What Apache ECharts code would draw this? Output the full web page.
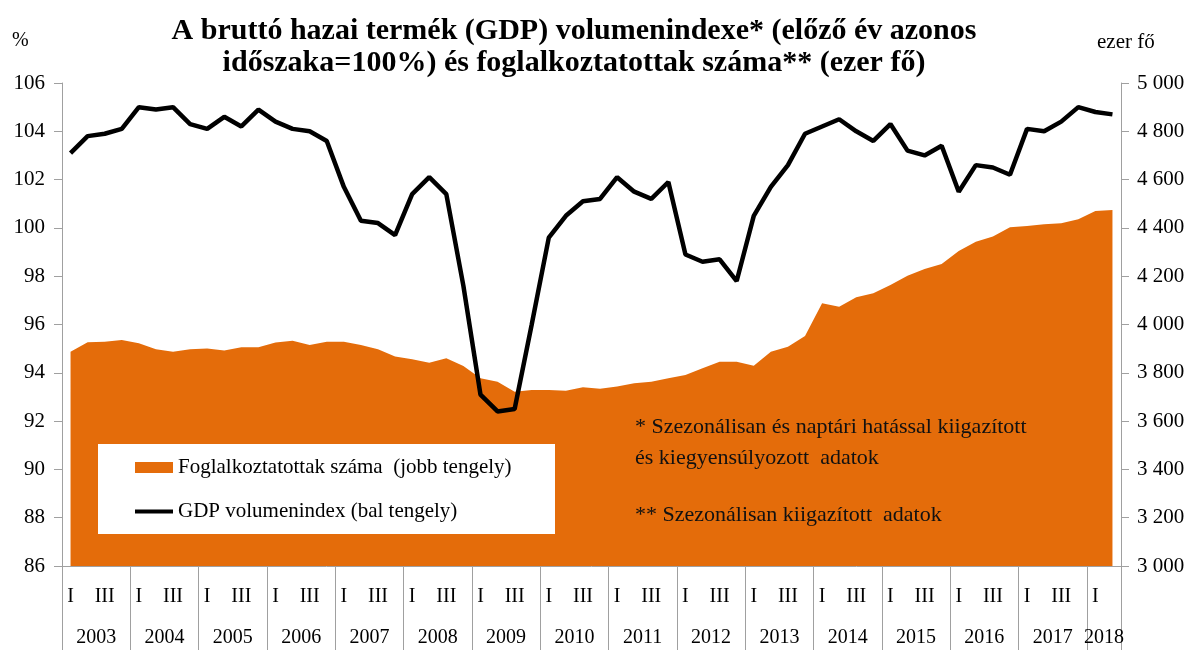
<!DOCTYPE html>
<html>
<head>
<meta charset="utf-8">
<script src="https://cdn.jsdelivr.net/npm/echarts@6/dist/echarts.min.js"></script>
<style>
  html, body { margin: 0; padding: 0; background: #fff; }
  #chart { width: 1193px; height: 650px; }
</style>
</head>
<body>
<div id="chart"></div>
<script>
// quarters 2003 I .. 2018 II
var years = [2003, 2004, 2005, 2006, 2007, 2008, 2009, 2010, 2011, 2012, 2013, 2014, 2015, 2016, 2017, 2018];
var quarterNames = ['I', 'II', 'III', 'IV'];

// GDP volumenindex, előző év azonos időszaka = 100 (bal tengely)
var gdpIndex = [
  103.1, 103.8, 103.9, 104.1,   // 2003
  105.0, 104.9, 105.0, 104.3,   // 2004
  104.1, 104.6, 104.2, 104.9,   // 2005
  104.4, 104.1, 104.0, 103.6,   // 2006
  101.7, 100.3, 100.2, 99.7,    // 2007
  101.4, 102.1, 101.4, 97.6,    // 2008
  93.1, 92.4, 92.5, 96.0,       // 2009
  99.6, 100.5, 101.1, 101.2,    // 2010
  102.1, 101.5, 101.2, 101.9,   // 2011
  98.9, 98.6, 98.7, 97.8,       // 2012
  100.5, 101.7, 102.6, 103.9,   // 2013
  104.2, 104.5, 104.0, 103.6,   // 2014
  104.3, 103.2, 103.0, 103.4,   // 2015
  101.5, 102.6, 102.5, 102.2,   // 2016
  104.1, 104.0, 104.4, 105.0,   // 2017
  104.8, 104.7                  // 2018
];

// foglalkoztatottak száma, ezer fő (jobb tengely)
var employed = [
  3887, 3926, 3929, 3936,
  3922, 3897, 3887, 3897,
  3901, 3892, 3906, 3906,
  3925, 3933, 3915, 3929,
  3929, 3915, 3897, 3867,
  3856, 3842, 3860, 3828,
  3777, 3763, 3722, 3729,
  3729, 3726, 3740, 3734,
  3743, 3757, 3763, 3777,
  3791, 3819, 3846, 3846,
  3829, 3887, 3908, 3952,
  4088, 4074, 4113, 4129,
  4164, 4202, 4230, 4251,
  4304, 4343, 4364, 4403,
  4408, 4415, 4419, 4436,
  4470, 4474
];

var leftTicks = [86, 106, 2];      // min, max, step
var rightTicks = [3000, 5000, 200];

var categories = [];
for (var i = 0; i < gdpIndex.length; i++) {
  categories.push(years[Math.floor(i / 4)] + ' ' + quarterNames[i % 4]);
}
var nQ = categories.length;

// year borders and year label positions on a 0..nQ scale
var yearBorders = [];
var yearCenters = [];
for (var y = 0; y < years.length; y++) {
  var a = y * 4, b = Math.min(y * 4 + 4, nQ);
  yearBorders.push(a);
  yearCenters.push((a + b) / 2);
}
yearBorders.push(nQ);

var FONT = '"Liberation Serif", "DejaVu Serif", serif';
var AXIS_GRAY = '#a0a0a0';
var ORANGE = '#E46C0A';

var chart = echarts.init(document.getElementById('chart'));

function spaced(v) {
  return String(v).replace(/\B(?=(\d{3})+(?!\d))/g, ' ');
}

var option = {
  animation: false,
  title: {
    text: 'A bruttó hazai termék (GDP) volumenindexe* (előző év azonos\nidőszaka=100%) és foglalkoztatottak száma** (ezer fő)',
    left: 569,
    top: 10,
    textAlign: 'center',
    textStyle: {
      fontFamily: FONT,
      fontSize: 30,
      fontWeight: 'bold',
      color: '#000',
      lineHeight: 32
    }
  },
  grid: { left: 62, right: 72, top: 83, bottom: 84 },
  legend: {
    orient: 'vertical',
    left: 98,
    top: 444,
    backgroundColor: '#fff',
    padding: [13, 36, 12, 37],
    itemWidth: 38,
    itemHeight: 11,
    itemGap: 23,
    selectedMode: false,
    textStyle: { fontFamily: FONT, fontSize: 21, color: '#000', lineHeight: 20, width: 341 },
    data: [
      { name: 'Foglalkoztatottak száma  (jobb tengely)', icon: 'rect' },
      { name: 'GDP volumenindex (bal tengely)', icon: 'path://M0,0H38V4H0Z' }
    ]
  },
  xAxis: [
    {
      type: 'category',
      data: categories,
      boundaryGap: true,
      position: 'bottom',
      axisLine: { lineStyle: { color: AXIS_GRAY, width: 1 } },
      axisTick: { interval: 0, length: 41, lineStyle: { color: AXIS_GRAY } },
      axisLabel: {
        interval: 0,
        margin: 21,
        fontFamily: FONT,
        fontSize: 20,
        color: '#000',
        formatter: function (v, idx) {
          var q = idx % 4;
          return q === 0 ? 'I' : (q === 2 ? 'III' : '');
        }
      },
      splitLine: { show: false }
    },
    {
      type: 'value',
      min: 0,
      max: nQ,
      position: 'bottom',
      axisLine: { show: false },
      axisTick: { show: true, length: 84, customValues: yearBorders, lineStyle: { color: AXIS_GRAY } },
      axisLabel: {
        margin: 62,
        customValues: yearCenters,
        fontFamily: FONT,
        fontSize: 20,
        color: '#000',
        formatter: function (v) { return String(years[Math.floor(v / 4)]); }
      },
      splitLine: { show: false }
    }
  ],
  yAxis: [
    {
      type: 'value',
      min: leftTicks[0],
      max: leftTicks[1],
      interval: leftTicks[2],
      position: 'left',
      axisLine: { show: true, lineStyle: { color: AXIS_GRAY } },
      axisTick: { show: true, length: 8, lineStyle: { color: AXIS_GRAY } },
      axisLabel: { margin: 17, fontFamily: FONT, fontSize: 21, color: '#000' },
      splitLine: { show: false }
    },
    {
      type: 'value',
      min: rightTicks[0],
      max: rightTicks[1],
      interval: rightTicks[2],
      position: 'right',
      axisLine: { show: true, lineStyle: { color: AXIS_GRAY } },
      axisTick: { show: true, length: 8, lineStyle: { color: AXIS_GRAY } },
      axisLabel: { margin: 16, fontFamily: FONT, fontSize: 21, color: '#000', formatter: spaced },
      splitLine: { show: false }
    }
  ],
  graphic: [
    { type: 'text', left: 12, top: 31, style: { text: '%', font: '20px ' + FONT, fill: '#000' } },
    { type: 'text', left: 1097, top: 32, style: { text: 'ezer fő', font: '21px ' + FONT, fill: '#000' } },
    {
      type: 'text', left: 635, top: 412, z: 10,
      style: {
        text: '* Szezonálisan és naptári hatással kiigazított\nés kiegyensúlyozott  adatok',
        font: '22px ' + FONT, fill: '#111', lineHeight: 31
      }
    },
    {
      type: 'text', left: 635, top: 504, z: 10,
      style: { text: '** Szezonálisan kiigazított  adatok', font: '22px ' + FONT, fill: '#111' }
    }
  ],
  series: [
    {
      name: 'Foglalkoztatottak száma  (jobb tengely)',
      type: 'line',
      xAxisIndex: 0,
      yAxisIndex: 1,
      data: employed,
      symbol: 'none',
      lineStyle: { width: 0 },
      itemStyle: { color: ORANGE },
      areaStyle: { color: ORANGE, opacity: 1, origin: 'start' },
      z: 1
    },
    {
      name: 'GDP volumenindex (bal tengely)',
      type: 'line',
      xAxisIndex: 0,
      yAxisIndex: 0,
      data: gdpIndex,
      symbol: 'none',
      lineStyle: { color: '#000', width: 4.5 },
      itemStyle: { color: '#000' },
      z: 3
    }
  ]
};

chart.setOption(option);
</script>
</body>
</html>
